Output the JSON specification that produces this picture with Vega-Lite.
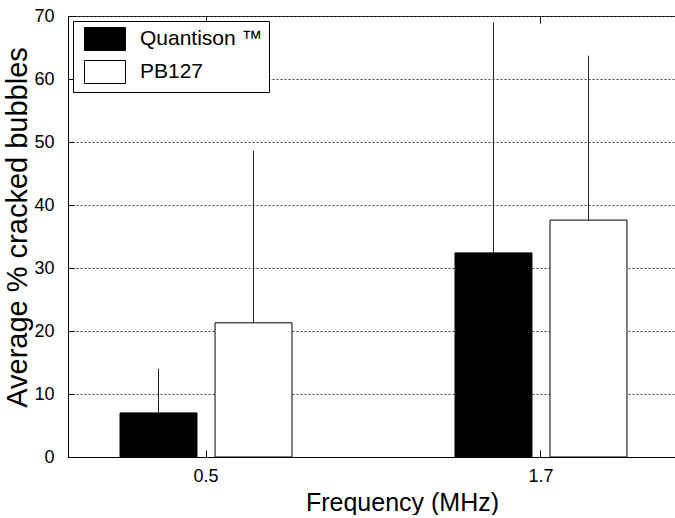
{
  "$schema": "https://vega.github.io/schema/vega-lite/v6.json",
  "width": 668,
  "height": 441,
  "padding": {"left": 3, "top": 7, "right": 0, "bottom": 0},
  "background": "white",
  "config": {
    "view": {"stroke": "black", "strokeWidth": 1},
    "font": "Liberation Sans",
    "axis": {"labelFont": "Liberation Sans", "titleFont": "Liberation Sans", "labelColor": "black", "titleColor": "black", "titleFontWeight": "normal", "domainColor": "black", "tickColor": "black", "tickWidth": 1}
  },
  "data": {
    "values": [
      {"freq": "0.5", "agent": "Quantison ™", "mean": 7.0, "upper": 14.0},
      {"freq": "0.5", "agent": "PB127", "mean": 21.3, "upper": 48.6},
      {"freq": "1.7", "agent": "Quantison ™", "mean": 32.4, "upper": 69.0},
      {"freq": "1.7", "agent": "PB127", "mean": 37.6, "upper": 63.7}
    ]
  },
  "resolve": {"axis": {"x": "independent"}},
  "layer": [
    {
      "mark": {"type": "bar", "stroke": "black", "strokeWidth": 1},
      "encoding": {
        "x": {
          "field": "freq", "type": "nominal", "sort": ["0.5", "1.7"],
          "scale": {"paddingInner": 0.4866, "paddingOuter": 0.2404, "align": 0.323},
          "axis": {"title": "Frequency (MHz)", "labelAngle": 0, "labelFontSize": 18, "titleFontSize": 25, "tickSize": -7, "labelPadding": 17, "titlePadding": 5, "domainColor": "black"}
        },
        "xOffset": {
          "field": "agent", "type": "nominal", "sort": ["Quantison ™", "PB127"],
          "scale": {"paddingInner": 0.19, "paddingOuter": 0}
        },
        "y": {
          "field": "mean", "type": "quantitative",
          "scale": {"domain": [0, 70], "nice": false},
          "axis": {"title": "Average % cracked bubbles", "values": [0, 10, 20, 30, 40, 50, 60, 70], "labelFontSize": 18, "titleFontSize": 29, "tickSize": -6, "labelPadding": 20, "titlePadding": 1, "grid": true, "gridDash": [2, 2], "gridColor": "#444", "gridWidth": 1, "titleY": 211}
        },
        "fill": {
          "field": "agent", "type": "nominal", "sort": ["Quantison ™", "PB127"],
          "scale": {"domain": ["Quantison ™", "PB127"], "range": ["black", "white"]},
          "legend": {"title": null, "orient": "top-left", "offset": 5, "direction": "vertical", "fillColor": "white", "strokeColor": "black", "padding": 6, "labelFont": "Liberation Sans", "labelFontSize": 21, "labelColor": "black", "labelOffset": 23, "symbolOffset": 14, "symbolType": "M-1.78,-1H1.78V1H-1.78Z", "symbolSize": 529, "symbolStrokeColor": "black", "symbolStrokeWidth": 1, "rowPadding": 5}
        }
      }
    },
    {
      "mark": {"type": "rule", "stroke": "#222", "strokeWidth": 1},
      "encoding": {
        "x": {
          "field": "freq", "type": "nominal", "sort": ["0.5", "1.7"],
          "axis": {"orient": "top", "labels": false, "title": null, "domain": false, "tickSize": -7, "grid": false}
        },
        "xOffset": {"field": "agent", "type": "nominal", "sort": ["Quantison ™", "PB127"]},
        "y": {"field": "mean", "type": "quantitative"},
        "y2": {"field": "upper"}
      }
    }
  ]
}
